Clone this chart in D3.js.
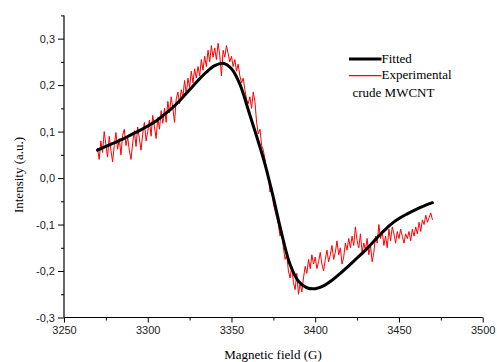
<!DOCTYPE html>
<html>
<head>
<meta charset="utf-8">
<script src="https://cdn.jsdelivr.net/npm/d3@7"></script>
<style>
  html, body { margin: 0; padding: 0; background: #fff; }
  svg { display: block; }
</style>
</head>
<body>
<svg id="chart" width="497" height="362"></svg>
<script>
// fitted curve, sampled every 5 G
const fitField = [
  3270, 3275, 3280, 3285, 3290, 3295, 3300, 3305, 3310, 3315,
  3320, 3325, 3330, 3335, 3340, 3345, 3350, 3355, 3360, 3365,
  3370, 3375, 3380, 3385, 3390, 3395, 3400, 3405, 3410, 3415,
  3420, 3425, 3430, 3435, 3440, 3445, 3450, 3455, 3460, 3465, 3470,
];
const fitIntensity = [
  0.060, 0.068, 0.076, 0.084, 0.093, 0.102, 0.112, 0.123, 0.137, 0.152,
  0.170, 0.190, 0.210, 0.228, 0.242, 0.247, 0.235, 0.202, 0.147, 0.090,
  0.030, -0.042, -0.120, -0.186, -0.222, -0.236, -0.238, -0.232, -0.220, -0.205,
  -0.189, -0.172, -0.155, -0.136, -0.117, -0.100, -0.087, -0.077, -0.068, -0.060, -0.053,
];

// experimental trace, one reading per gauss from 3270 G
const expStartField = 3270;
const expIntensity = [
  0.065, 0.040, 0.080, 0.055, 0.100, 0.072, 0.045, 0.090, 0.060, 0.035,
  0.070, 0.098, 0.062, 0.085, 0.050, 0.092, 0.105, 0.070, 0.088, 0.060,
  0.040, 0.075, 0.102, 0.068, 0.110, 0.085, 0.060, 0.095, 0.120, 0.080,
  0.100, 0.125, 0.090, 0.135, 0.110, 0.085, 0.130, 0.105, 0.145, 0.118,
  0.150, 0.120, 0.165, 0.140, 0.175, 0.150, 0.120, 0.170, 0.185, 0.160,
  0.190, 0.175, 0.210, 0.180, 0.215, 0.195, 0.230, 0.205, 0.235, 0.215,
  0.240, 0.220, 0.255, 0.232, 0.262, 0.240, 0.275, 0.250, 0.285, 0.260,
  0.280, 0.255, 0.290, 0.265, 0.220, 0.275, 0.260, 0.285, 0.268, 0.250,
  0.262, 0.240, 0.255, 0.230, 0.245, 0.220, 0.205, 0.215, 0.190, 0.170,
  0.160, 0.175, 0.150, 0.185, 0.165, 0.120, 0.095, 0.105, 0.070, 0.060,
  0.040, 0.015, 0.005, -0.030, -0.020, -0.055, -0.070, -0.085, -0.100, -0.125,
  -0.115, -0.150, -0.175, -0.165, -0.200, -0.215, -0.190, -0.225, -0.240, -0.205,
  -0.250, -0.225, -0.245, -0.215, -0.190, -0.205, -0.175, -0.195, -0.165, -0.185,
  -0.170, -0.195, -0.180, -0.160, -0.185, -0.200, -0.175, -0.155, -0.180, -0.165,
  -0.145, -0.175, -0.160, -0.135, -0.165, -0.150, -0.185, -0.170, -0.140, -0.155,
  -0.130, -0.150, -0.125, -0.145, -0.105, -0.135, -0.150, -0.120, -0.160, -0.140,
  -0.155, -0.130, -0.165, -0.145, -0.180, -0.160, -0.125, -0.140, -0.100, -0.130,
  -0.115, -0.145, -0.125, -0.150, -0.110, -0.135, -0.105, -0.120, -0.140, -0.115,
  -0.130, -0.110, -0.125, -0.140, -0.120, -0.130, -0.115, -0.135, -0.110, -0.125,
  -0.105, -0.120, -0.095, -0.115, -0.090, -0.100, -0.080, -0.095, -0.085, -0.075,
  -0.090,
];

const xTicks = [3250, 3300, 3350, 3400, 3450, 3500];
const xMinorTicks = [3275, 3325, 3375, 3425, 3475];
const yTicks = [-0.3, -0.2, -0.1, 0.0, 0.1, 0.2, 0.3];
const yMinorTicks = [-0.25, -0.15, -0.05, 0.05, 0.15, 0.25, 0.35];

const legendItems = [
  { label: 'Fitted', color: '#000', width: 3 },
  { label: 'Experimental', color: '#ff0000', width: 1.2 },
];
const legendNote = 'crude MWCNT';

const svg = d3.select('#chart');
const plot = { left: 64, right: 482.7, top: 15.4, bottom: 317.5 };

const x = d3.scaleLinear().domain([3250, 3500]).range([plot.left, plot.right]);
const y = d3.scaleLinear().domain([-0.3, 0.35]).range([plot.bottom, plot.top]);

const fmt = (v) => v.toFixed(1).replace('.', ',');

// axes: major ticks with labels, minor ticks without
const xAxis = svg.append('g')
  .attr('transform', `translate(0,${plot.bottom})`)
  .call(d3.axisBottom(x).tickValues(xTicks).tickSize(5).tickPadding(4).tickFormat(d3.format('d')));
svg.append('g')
  .attr('transform', `translate(0,${plot.bottom})`)
  .call(d3.axisBottom(x).tickValues(xMinorTicks).tickSize(3).tickFormat(''))
  .select('.domain').remove();

const yAxis = svg.append('g')
  .attr('transform', `translate(${plot.left},0)`)
  .call(d3.axisLeft(y).tickValues(yTicks).tickSize(6).tickPadding(3).tickFormat(fmt));
svg.append('g')
  .attr('transform', `translate(${plot.left},0)`)
  .call(d3.axisLeft(y).tickValues(yMinorTicks).tickSize(3).tickFormat(''))
  .select('.domain').remove();

xAxis.select('.domain').attr('d', `M${plot.left},0H${plot.right}`).attr('stroke-width', 1.2);
yAxis.select('.domain').attr('d', `M0,${plot.top}V${plot.bottom}`).attr('stroke-width', 1.2);
svg.selectAll('.tick line').attr('stroke', '#000');
svg.selectAll('.tick text')
  .style('font-family', '"Liberation Sans", Arial, sans-serif')
  .style('font-size', '11px')
  .style('fill', '#222');

// axis titles
svg.append('text')
  .attr('x', 273)
  .attr('y', 359)
  .attr('text-anchor', 'middle')
  .style('font-family', '"Liberation Serif", "Times New Roman", serif')
  .style('font-size', '13px')
  .text('Magnetic field (G)');

svg.append('text')
  .attr('transform', 'translate(22.5,175) rotate(-90)')
  .attr('text-anchor', 'middle')
  .style('font-family', '"Liberation Serif", "Times New Roman", serif')
  .style('font-size', '13px')
  .text('Intensity (a.u.)');

// experimental trace
const expData = expIntensity.map((v, i) => ({ field: expStartField + i, value: v }));
svg.append('path')
  .datum(expData)
  .attr('fill', 'none')
  .attr('stroke', '#ff0000')
  .attr('stroke-width', 1)
  .attr('stroke-linejoin', 'round')
  .attr('d', d3.line().x(d => x(d.field)).y(d => y(d.value)));

// fitted curve
const fitData = fitField.map((f, i) => ({ field: f, value: fitIntensity[i] }));
svg.append('path')
  .datum(fitData)
  .attr('fill', 'none')
  .attr('stroke', '#000')
  .attr('stroke-width', 3)
  .attr('stroke-linecap', 'round')
  .attr('d', d3.line().curve(d3.curveCatmullRom).x(d => x(d.field)).y(d => y(d.value)));

// legend
const legend = svg.append('g')
  .style('font-family', '"Liberation Serif", "Times New Roman", serif')
  .style('font-size', '13px');
const legendRows = [59, 75.7];
legendItems.forEach((item, i) => {
  legend.append('line')
    .attr('x1', 349).attr('x2', 381.5)
    .attr('y1', legendRows[i]).attr('y2', legendRows[i])
    .attr('stroke', item.color)
    .attr('stroke-width', item.width);
  legend.append('text')
    .attr('x', 381.5)
    .attr('y', legendRows[i] + 3.5)
    .text(item.label);
});
legend.append('text')
  .attr('x', 352.5)
  .attr('y', 96.5)
  .text(legendNote);
</script>
</body>
</html>
